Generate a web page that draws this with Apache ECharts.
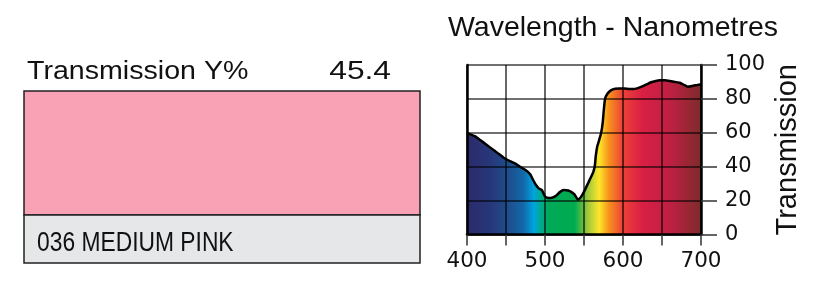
<!DOCTYPE html>
<html>
<head>
<meta charset="utf-8">
<script src="https://cdn.jsdelivr.net/npm/echarts@6/dist/echarts.min.js"></script>
<style>
html,body{margin:0;padding:0;background:#fff;}
#chart{width:827px;height:283px;}
</style>
</head>
<body>
<div id="chart"></div>
<script>
// ---- data ----
const wavelengths = [400,410,417,425,434,441,447,455,462,468,475,481,485,488,492,496,500,503,507,511,515,519,524,530,534,538,542,545,548,551,555,558,562,564,565,567,569,572,574,575.5,577,580,585,590,595,602,608,613,618,624,630,636,642,647,654,660,667,673,678,683,687,690,695,700];
const transmission = [60,58,55.7,53,49.8,47.5,45.3,43.3,41.8,40,38,35.6,32,29.5,27.2,26.2,22.5,21.7,21.5,22,23.2,25,26.2,26,25,23.5,20.7,21.5,23.5,26.2,30,33,37,41,46,52,55,60,66,74,80,83,85.2,86,86.2,86.2,85.8,85.8,86.2,87.2,88.5,89.8,90.6,91,91,90.6,90,89.5,88.3,87.2,87.5,87.8,88.2,88.6];
const xTicks = [400,500,600,700];
const yTicks = [0,20,40,60,80,100];
const filterName = '036 MEDIUM PINK';
const transmissionY = '45.4';
const swatchColor = '#f9a2b6';

const seriesData = wavelengths.map((w, i) => [w, transmission[i]]);

const spectrum = new echarts.graphic.LinearGradient(0, 0, 1, 0, [
  {offset: 0.00, color: '#2b2a6b'},
  {offset: 0.10, color: '#27377a'},
  {offset: 0.17, color: '#1f4c8a'},
  {offset: 0.24, color: '#1467a8'},
  {offset: 0.285, color: '#00a3e0'},
  {offset: 0.315, color: '#00ab8f'},
  {offset: 0.35, color: '#00a957'},
  {offset: 0.46, color: '#00ab4f'},
  {offset: 0.52, color: '#a8ca3a'},
  {offset: 0.565, color: '#fde72a'},
  {offset: 0.605, color: '#f7941d'},
  {offset: 0.665, color: '#ee4137'},
  {offset: 0.75, color: '#d91f45'},
  {offset: 0.87, color: '#be2042'},
  {offset: 1.00, color: '#7d2b2b'}
]);

const chart = echarts.init(document.getElementById('chart'), null, {renderer: 'canvas'});
const titleFont = '"Liberation Sans", Arial, Helvetica, sans-serif';
const numFont = '"DejaVu Sans", sans-serif';

chart.setOption({
  animation: false,
  title: {
    text: 'Wavelength - Nanometres',
    left: 443, top: 9,
    textStyle: {fontFamily: titleFont, fontSize: 28.5, fontWeight: 'normal', color: '#111'}
  },
  grid: {left: 467, right: 126, top: 65, bottom: 48.5, containLabel: false},
  xAxis: {
    type: 'value', min: 400, max: 700, interval: 50, z: 3,
    axisLine: {show: true, lineStyle: {color: '#000', width: 2.5}},
    axisTick: {show: true, length: 11, lineStyle: {color: '#333', width: 1.5}},
    axisLabel: {
      margin: 16, fontFamily: numFont, fontSize: 21.5, color: '#111',
      formatter: v => (xTicks.indexOf(v) >= 0 ? String(v) : '')
    },
    splitLine: {show: true, lineStyle: {color: 'rgba(0,0,0,0.75)', width: 1.6}}
  },
  yAxis: [{
    type: 'value', min: 0, max: 100, interval: 20, position: 'right', z: 3,
    name: 'Transmission', nameLocation: 'middle', nameRotate: 90, nameGap: 72,
    nameTextStyle: {fontFamily: titleFont, fontSize: 29, color: '#111'},
    axisLine: {show: true, lineStyle: {color: '#000', width: 2.5}},
    axisTick: {show: true, length: 16, lineStyle: {color: '#333', width: 1.5}},
    axisLabel: {
      margin: 24, fontFamily: numFont, fontSize: 21, color: '#111',
      formatter: v => (yTicks.indexOf(v) >= 0 ? String(v) : '')
    },
    splitLine: {show: true, lineStyle: {color: 'rgba(0,0,0,0.75)', width: 1.6}}
  }, {
    type: 'value', min: 0, max: 100, interval: 20, position: 'left', z: 3,
    axisLine: {show: true, onZero: false, lineStyle: {color: '#000', width: 2.5}},
    axisTick: {show: false}, axisLabel: {show: false}, splitLine: {show: false}
  }],
  series: [{
    type: 'line', data: seriesData, yAxisIndex: 0, z: 1,
    symbol: 'none', smooth: 0.15,
    lineStyle: {width: 0, color: 'transparent'},
    areaStyle: {color: spectrum, opacity: 1, origin: 'start'}
  }, {
    type: 'line', data: seriesData, yAxisIndex: 0, z: 5,
    symbol: 'none', smooth: 0.15,
    lineStyle: {width: 2.5, color: '#000'}
  }],
  graphic: [
    {type: 'rect', shape: {x: 24, y: 91, width: 396, height: 124},
     style: {fill: swatchColor, stroke: '#222', lineWidth: 1.5}},
    {type: 'rect', shape: {x: 24, y: 215, width: 396, height: 48},
     style: {fill: '#e6e7e9', stroke: '#222', lineWidth: 1.5}},
    {type: 'text', x: 27, y: 72, scaleX: 1.1,
     style: {text: 'Transmission Y%', fontFamily: titleFont, fontSize: 26, fill: '#111',
             align: 'left', verticalAlign: 'middle', textAlign: 'left', textVerticalAlign: 'middle'}},
    {type: 'text', x: 391, y: 72, scaleX: 1.22,
     style: {text: transmissionY, fontFamily: titleFont, fontSize: 26, fill: '#111',
             align: 'right', verticalAlign: 'middle', textAlign: 'right', textVerticalAlign: 'middle'}},
    {type: 'text', x: 37, y: 243, scaleX: 0.83,
     style: {text: filterName, fontFamily: titleFont, fontSize: 27.5, fill: '#111',
             align: 'left', verticalAlign: 'middle', textAlign: 'left', textVerticalAlign: 'middle'}}
  ]
});
</script>
</body>
</html>
